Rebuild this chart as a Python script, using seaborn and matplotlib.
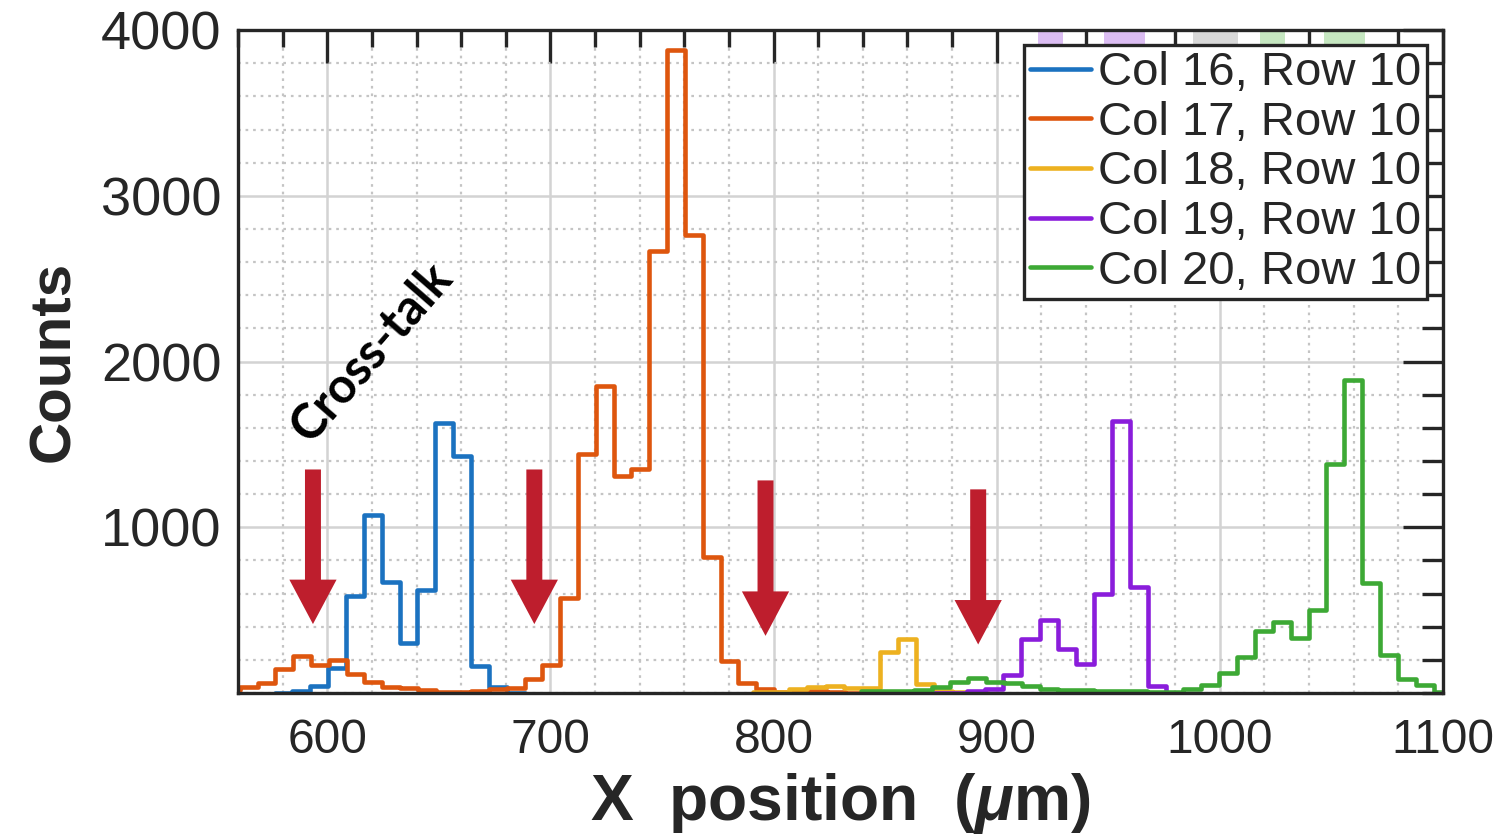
import matplotlib
matplotlib.use("Agg")
import matplotlib.pyplot as plt
import numpy as np
import pandas as pd
import seaborn as sns
from matplotlib import font_manager
from matplotlib.ticker import MultipleLocator, FixedLocator

# histogram data: (first bin edge, bin width, counts)
blue_start, blue_width = 576.4, 8.0
blue_counts = [0, 14, 44, 153, 584, 1076, 671, 303, 620, 1628, 1430, 163, 34, 0]

orange_start, orange_width = 552.8, 7.98
orange_counts = [20, 34, 62, 143, 223, 169, 199, 114, 68, 38, 28, 18, 6, 6, 12, 22,
                 30, 85, 169, 571, 1442, 1852, 1312, 1350, 2670, 3880, 2766, 818,
                 195, 60, 22, 8, 10, 12, 6, 0]

yellow_start, yellow_width = 790.9, 8.1
yellow_counts = [4, 6, 22, 34, 44, 28, 32, 249, 326, 54, 14, 4, 0]

purple_start, purple_width = 870.6, 8.1
purple_counts = [0, 0, 12, 22, 110, 329, 440, 265, 175, 600, 1640, 637, 44, 0]

green_start, green_width = 839.0, 8.03
green_counts = [14, 14, 14, 18, 38, 64, 88, 68, 58, 44, 24, 16, 16, 14, 12, 10, 8,
                8, 26, 48, 118, 219, 375, 426, 335, 500, 1380, 1886, 665, 229, 82,
                48, 8]

labels = ["Col 16, Row 10", "Col 17, Row 10", "Col 18, Row 10",
          "Col 19, Row 10", "Col 20, Row 10"]
colors = ["#1B72C0", "#DE560E", "#EDB120", "#8A1DDB", "#3DA935"]

# red markers pointing at cross-talk bumps (x, arrow top, arrow tip)
arrow_x = [593.6, 692.8, 796.4, 891.7]
arrow_top = [1349, 1349, 1283, 1229]
arrow_tip = [416, 416, 345, 293]

# faint coloured blocks along the top frame
band_x0 = [918.7, 948.2, 987.9, 1018.2, 1046.8]
band_x1 = [929.9, 966.5, 1008.0, 1029.4, 1065.1]
band_colors = ["#DBBDF2", "#DBBDF2", "#D8D8D8", "#C6E7C1", "#C6E7C1"]

sns.set_style("white")
names = {f.name for f in font_manager.fontManager.ttflist}
NARROW = "Liberation Sans Narrow" if "Liberation Sans Narrow" in names else "Liberation Sans"
narrow_scale = 1.0 if NARROW == "Liberation Sans Narrow" else 0.84
plt.rcParams["font.family"] = ["Liberation Sans", "DejaVu Sans"]
plt.rcParams["mathtext.fontset"] = "custom"
plt.rcParams["mathtext.it"] = f"{NARROW}:italic:bold"
plt.rcParams["mathtext.rm"] = f"{NARROW}:bold"

INK = "#262626"
LW = 3.3

fig, ax = plt.subplots(figsize=(15.11, 8.38), dpi=100)
fig.subplots_adjust(left=0.1575, right=0.955, bottom=0.173, top=0.964)

series = [
    (blue_start, blue_width, blue_counts),
    (orange_start, orange_width, orange_counts),
    (yellow_start, yellow_width, yellow_counts),
    (purple_start, purple_width, purple_counts),
    (green_start, green_width, green_counts),
]
for (start, width, counts), label, color in zip(series, labels, colors):
    edges = start + width * np.arange(len(counts) + 1)
    hist = pd.DataFrame({"x": (edges[:-1] + edges[1:]) / 2, "count": counts})
    sns.histplot(data=hist, x="x", weights="count", bins=edges.tolist(), element="step",
                 fill=False, color=color, label=label, linewidth=LW, ax=ax)
# make sure every step outline gets the heavy MATLAB-like stroke
for artist in list(ax.lines) + list(ax.collections) + list(ax.patches):
    artist.set_linewidth(LW)

for x, top, tip in zip(arrow_x, arrow_top, arrow_tip):
    ax.annotate("", xy=(x, tip), xytext=(x, top),
                arrowprops=dict(arrowstyle="simple,head_length=32,head_width=34,tail_width=11.5",
                                mutation_scale=1, color="#BE1E2D", lw=0,
                                shrinkA=0, shrinkB=0), zorder=4)

for x0, x1, c in zip(band_x0, band_x1, band_colors):
    ax.axvspan(x0, x1, ymin=0.979, ymax=1.0, color=c, lw=0, zorder=1)

ax.text(619.6, 2054, "Cross-talk", rotation=49, rotation_mode="anchor",
        ha="center", va="center", fontsize=35, fontweight="bold",
        family=["Lato", "DejaVu Sans"], color="black", zorder=5)

ax.set_xlim(560, 1100)
ax.set_ylim(0, 4000)
ax.xaxis.set_major_locator(MultipleLocator(100))
ax.xaxis.set_minor_locator(MultipleLocator(20))
ax.yaxis.set_major_locator(FixedLocator([1000, 2000, 3000, 4000]))
ax.yaxis.set_minor_locator(MultipleLocator(200))

ax.grid(which="major", color="#D3D3D3", linewidth=1.8, linestyle="-")
ax.grid(which="minor", color="#C4C4C4", linewidth=1.6, linestyle=(0, (1.2, 2.2)))
ax.set_axisbelow(True)

for side in ["left", "right", "top", "bottom"]:
    ax.spines[side].set_visible(True)
    ax.spines[side].set_color(INK)
    ax.spines[side].set_linewidth(2.4)

ax.tick_params(which="both", direction="in", top=True, right=True, color=INK,
               width=2.4, labelcolor=INK)
ax.tick_params(axis="x", which="major", length=24, pad=18)
ax.tick_params(axis="x", which="minor", length=12)
ax.tick_params(axis="y", which="major", length=29, pad=12, labelsize=39)
ax.tick_params(axis="y", which="minor", length=15)
for lab in ax.get_xticklabels():
    lab.set_family(NARROW)
    lab.set_fontsize(41 * narrow_scale)

ax.set_xlabel(r"X  position  ($\mu$m)", family=NARROW, fontweight="bold",
              fontsize=55 * narrow_scale, color=INK, labelpad=6)
ax.set_ylabel("Counts", family=NARROW, fontweight="bold",
              fontsize=50 * narrow_scale, color=INK, labelpad=14)

leg = ax.legend(loc="upper right", bbox_to_anchor=(0.987, 0.977), fontsize=34,
                frameon=True, fancybox=False, framealpha=1, edgecolor=INK,
                borderpad=0.12, labelspacing=0.12, handlelength=1.3,
                handletextpad=0.15, borderaxespad=0)
leg.get_frame().set_linewidth(2.4)
for text in leg.get_texts():
    text.set_color(INK)
for handle in leg.legend_handles:
    handle.set_linewidth(LW)

fig.savefig("out.png", dpi=100)
